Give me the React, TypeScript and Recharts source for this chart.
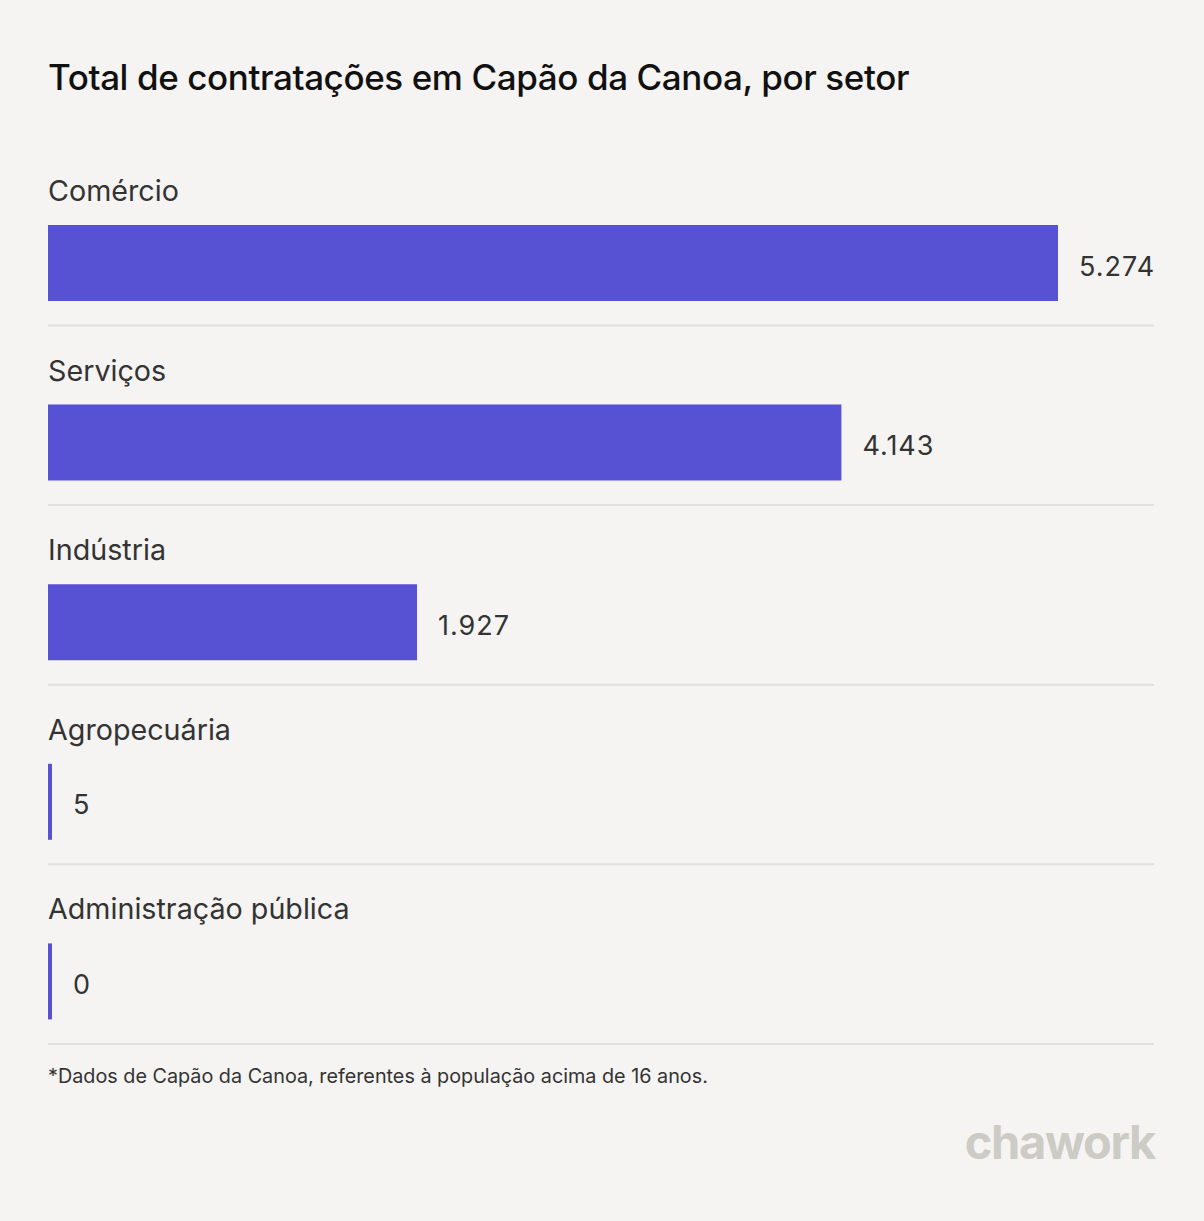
import { BarChart, Bar, XAxis, YAxis, LabelList } from "recharts"

const sectors = ["Comércio", "Serviços", "Indústria", "Agropecuária", "Administração pública"]
const hires = [5274, 4143, 1927, 5, 0]

const data = sectors.map((name, i) => ({ name, value: hires[i] }))

const BAR_COLOR = "#5752d4"
const BG = "#f5f4f2"
const FONT = "Inter, 'Noto Sans', sans-serif"

// pt-BR thousands separator
const fmt = (v: number) => String(v).replace(/\B(?=(\d{3})+(?!\d))/g, ".")

function CategoryLabel(props: any) {
  const { x, y, height, value } = props
  return (
    <g>
      <text x={x} y={y - 24} fill="#333" fontSize={28.7} fontFamily={FONT}>
        {value}
      </text>
      <line
        x1={x}
        x2={1154}
        y1={y + height + 24.5}
        y2={y + height + 24.5}
        stroke="#e2e0dc"
        strokeWidth={2}
      />
    </g>
  )
}

export default function App() {
  return (
    <div
      style={{
        position: "absolute",
        top: 0,
        left: 0,
        width: 1204,
        height: 1221,
        background: BG,
        fontFamily: FONT,
        overflow: "hidden",
      }}
    >
      <div
        style={{
          position: "absolute",
          left: 48,
          top: 56,
          fontSize: 35,
          fontWeight: 500,
          color: "#111",
          letterSpacing: -0.4,
          whiteSpace: "nowrap",
        }}
      >
        Total de contratações em Capão da Canoa, por setor
      </div>

      <div style={{ position: "absolute", left: 0, top: 0 }}>
        <BarChart
          width={1204}
          height={1221}
          data={data}
          layout="vertical"
          margin={{ top: 173, right: 146, bottom: 150, left: 48 }}
          barCategoryGap={0}
        >
          <XAxis type="number" domain={[0, 5274]} hide />
          <YAxis type="category" dataKey="name" hide />
          <Bar
            dataKey="value"
            fill={BAR_COLOR}
            barSize={76}
            minPointSize={4}
            isAnimationActive={false}
          >
            <LabelList dataKey="name" content={<CategoryLabel />} />
            <LabelList
              dataKey="value"
              position="right"
              offset={21}
              formatter={(v: any) => fmt(Number(v))}
              fill="#333"
              fontSize={27}
              letterSpacing={1}
              dy={3}
              fontFamily={FONT}
            />
          </Bar>
        </BarChart>
      </div>

      <div
        style={{
          position: "absolute",
          left: 48,
          top: 1064,
          fontSize: 19.8,
          color: "#333",
          whiteSpace: "nowrap",
        }}
      >
        *Dados de Capão da Canoa, referentes à população acima de 16 anos.
      </div>

      <div
        style={{
          position: "absolute",
          right: 49,
          top: 1113,
          fontSize: 47,
          fontWeight: 700,
          color: "#cdcbc5",
          letterSpacing: -1.3,
        }}
      >
        chawork
      </div>
    </div>
  )
}
